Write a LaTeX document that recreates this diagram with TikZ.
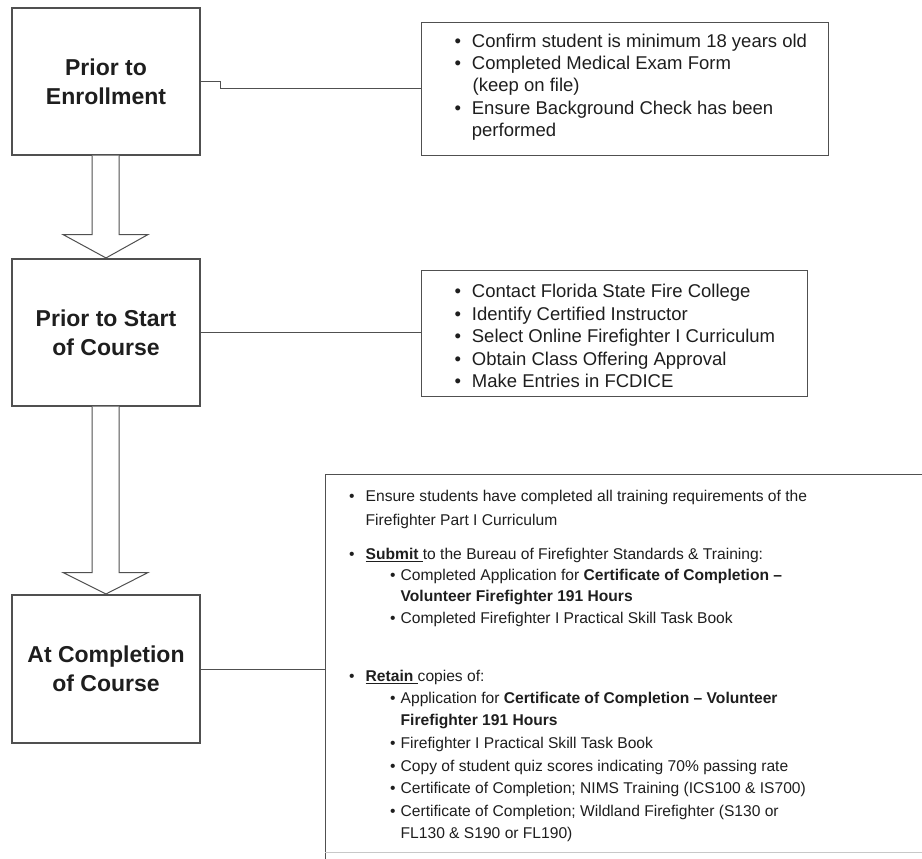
\documentclass[tikz,border=0pt]{standalone}
\usepackage{fontspec}
\setmainfont{Liberation Sans}
\usetikzlibrary{calc}
\definecolor{linec}{HTML}{505050}
\definecolor{faint}{HTML}{C8C8C8}
\definecolor{txt}{HTML}{1E1E1E}
\newcommand\bu[1]{\makebox[#1][l]{\textbullet}}
\tikzset{
  stagebox/.style={draw=linec, line width=1.1pt, minimum width=188pt, inner sep=0pt,
    align=center, text=txt, font=\fontsize{23}{29}\selectfont\bfseries},
  infobox/.style={draw=linec, line width=1pt, inner sep=0pt, anchor=north west},
  tA/.style={anchor=base west, inner sep=0pt, text=txt, font=\fontsize{18.5}{22}\selectfont},
  tB/.style={anchor=base west, inner sep=0pt, text=txt, font=\fontsize{15.6}{22}\selectfont},
  conn/.style={draw=linec, line width=1pt},
  blockarrow/.style={draw=linec, line width=1pt, fill=white, line join=miter}
}
\begin{document}
\begin{tikzpicture}[x=1pt,y=-1pt]
\useasboundingbox (0,0) rectangle (922,859);
% stage boxes
\node[stagebox, minimum height=147pt] (p1) at (106,81.5) {Prior to\\Enrollment};
\node[stagebox, minimum height=147pt] (p2) at (106,332.5) {Prior to Start\\of Course};
\node[stagebox, minimum height=148pt] (p3) at (106,669) {At Completion\\of Course};
% info boxes
\node[infobox, minimum width=407pt, minimum height=133.3pt] (i1) at (420.7,21.7) {};
\node[infobox, minimum width=386.3pt, minimum height=126pt] (i2) at (420.7,270) {};
\coordinate (i3nw) at (325,474);
\coordinate (i3sw) at (325,852);
\draw[conn] (925,474) -- (i3nw) -- (325,859);
\draw[draw=faint, line width=1pt] (i3sw) -- (925,852);
% connectors
\draw[conn] (p1.east) -- ++(20,0) |- (i1.west);
\draw[conn] (p2.east) -- (p2.east -| i2.west);
\draw[conn] (p3.east) -- (p3.east -| i3nw);
% block arrows
\draw[blockarrow] ($(p1.south)+(-14,0)$) -- ++(0,79) -- ++(-29,0) -- ($(p2.north)+(0,-0.5)$)
  -- ($(p1.south)+(42,79)$) -- ($(p1.south)+(13,79)$) -- ($(p1.south)+(13,0)$);
\draw[blockarrow] ($(p2.south)+(-14,0)$) -- ++(0,166) -- ++(-29,0) -- ($(p3.north)+(0,-0.5)$)
  -- ($(p2.south)+(42,166)$) -- ($(p2.south)+(13,166)$) -- ($(p2.south)+(13,0)$);
% info box 1 text
\node[tA] (a1) at (454.3,48) {\bu{17.4pt}Confirm student is minimum 18 years old};
\node[tA] (a2) at (454.3,70) {\bu{17.4pt}Completed Medical Exam Form};
\node[tA] (a3) at (472.5,92) {(keep on file)};
\node[tA] (a4) at (454.3,114.5) {\bu{17.4pt}Ensure Background Check has been};
\node[tA] (a5) at (471.7,136.5) {performed};
% info box 2 text
\node[tA] (b1) at (454.3,297.5) {\bu{17.4pt}Contact Florida State Fire College};
\node[tA] (b2) at (454.3,320) {\bu{17.4pt}Identify Certified Instructor};
\node[tA] (b3) at (454.3,342.5) {\bu{17.4pt}Select Online Firefighter I Curriculum};
\node[tA] (b4) at (454.3,365) {\bu{17.4pt}Obtain Class Offering Approval};
\node[tA] (b5) at (454.3,387.5) {\bu{17.4pt}Make Entries in FCDICE};
% info box 3 text
\node[tB] (c1) at (348.8,501.7) {\bu{16.7pt}Ensure students have completed all training requirements of the};
\node[tB] (c2) at (365.5,525) {Firefighter Part I Curriculum};
\node[tB] (c3) at (348.8,559.3) {\bu{16.7pt}\underline{\textbf{Submit}\ }to the Bureau of Firefighter Standards \& Training:};
\node[tB] (c4) at (389.8,580) {\bu{10.7pt}Completed Application for \textbf{Certificate of Completion –}};
\node[tB] (c5) at (400.5,601.7) {\textbf{Volunteer Firefighter 191 Hours}};
\node[tB] (c6) at (389.8,623.3) {\bu{10.7pt}Completed Firefighter I Practical Skill Task Book};
\node[tB] (c7) at (348.8,681.5) {\bu{16.7pt}\underline{\textbf{Retain}\ }copies of:};
\node[tB] (c8) at (389.8,703.5) {\bu{10.7pt}Application for \textbf{Certificate of Completion – Volunteer}};
\node[tB] (c9) at (400.5,725.5) {\textbf{Firefighter 191 Hours}};
\node[tB] (c10) at (389.8,748.5) {\bu{10.7pt}Firefighter I Practical Skill Task Book};
\node[tB] (c11) at (389.8,771) {\bu{10.7pt}Copy of student quiz scores indicating 70\% passing rate};
\node[tB] (c12) at (389.8,793.5) {\bu{10.7pt}Certificate of Completion; NIMS Training (ICS100 \& IS700)};
\node[tB] (c13) at (389.8,816) {\bu{10.7pt}Certificate of Completion; Wildland Firefighter (S130 or};
\node[tB] (c14) at (400.5,838.5) {FL130 \& S190 or FL190)};
\end{tikzpicture}
\end{document}
